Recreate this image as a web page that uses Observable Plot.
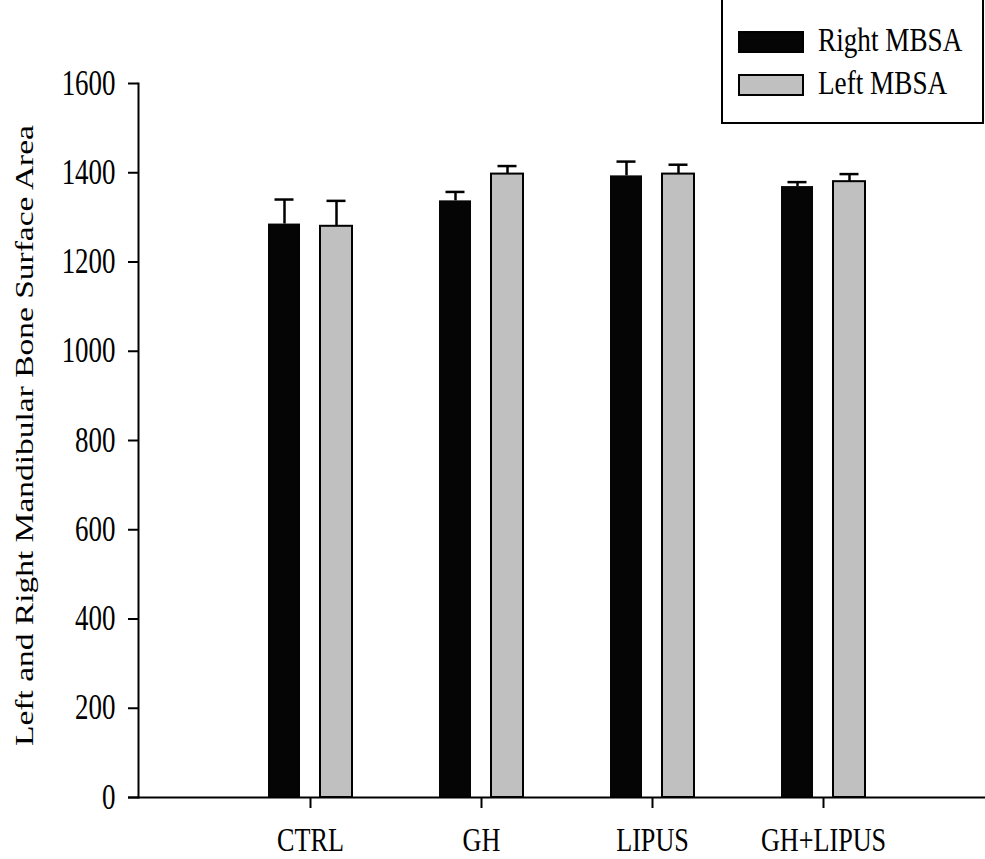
<!DOCTYPE html>
<html>
<head>
<meta charset="utf-8">
<script src="https://cdn.jsdelivr.net/npm/d3@7"></script>
<script src="https://cdn.jsdelivr.net/npm/@observablehq/plot@0.6"></script>
<style>
  html, body { margin: 0; padding: 0; background: white; }
  #wrap { position: relative; width: 985px; height: 859px; overflow: hidden; }
  #wrap svg text { font-family: "Liberation Serif", "Times New Roman", serif !important; }
  #legend { position: absolute; left: 721px; top: -4px; width: 263px; height: 128px; border: 2px solid black; box-sizing: border-box; background: white; font-family: "Liberation Serif", serif; font-size: 34px; }
  .sw { position: absolute; left: 15px; width: 66px; height: 22px; box-sizing: border-box; border: 2px solid black; }
  .lab { position: absolute; left: 95px; line-height: 34px; white-space: nowrap; transform: scaleX(0.8); transform-origin: 0 0; }
</style>
</head>
<body>
<div id="wrap"></div>
<script>
const categories = ["CTRL", "GH", "LIPUS", "GH+LIPUS"];
const rightMean = [1285, 1337, 1393, 1369];
const rightErr = [55, 20, 32, 10];
const leftMean = [1280, 1397, 1397, 1380];
const leftErr = [57, 18, 21, 17];
const yTicks = [0, 200, 400, 600, 800, 1000, 1200, 1400, 1600];
const seriesNames = ["Right MBSA", "Left MBSA"];
const seriesColors = ["#050505", "#c0c0c0"];
const yTitle = "Left and Right Mandibular Bone Surface Area";

const data = categories.map((c, i) => ({
  cat: c,
  right: rightMean[i], rightTop: rightMean[i] + rightErr[i],
  left: leftMean[i], leftTop: leftMean[i] + leftErr[i]
}));

const squeeze = 0.77;
const serif = "Liberation Serif";

const chart = Plot.plot({
  width: 985,
  height: 859,
  marginTop: 83,
  marginBottom: 62,
  marginLeft: 138,
  marginRight: 0,
  style: { fontFamily: serif, fontSize: "35px", color: "black", background: "white", overflow: "visible" },
  x: { domain: categories, range: [139, 994], paddingInner: 0.50588, paddingOuter: 0.75294, label: null },
  y: { domain: [0, 1600], range: [797, 83], label: null },
  marks: [
    Plot.ruleX(data, { x: "cat", y1: "right", y2: "rightTop", dx: -26, stroke: "black", strokeWidth: 2.5 }),
    Plot.ruleX(data, { x: "cat", y1: "left", y2: "leftTop", dx: 26, stroke: "black", strokeWidth: 2.5 }),
    Plot.tickY(data, { x: "cat", y: "rightTop", insetLeft: 6.5, insetRight: 58.5, stroke: "black", strokeWidth: 2.5 }),
    Plot.tickY(data, { x: "cat", y: "leftTop", insetLeft: 58.5, insetRight: 6.5, stroke: "black", strokeWidth: 2.5 }),
    Plot.barY(data, { x: "cat", y: "right", fill: seriesColors[0], insetRight: 52 }),
    Plot.barY(data, { x: "cat", y: "left", fill: seriesColors[1], stroke: "black", strokeWidth: 2, insetLeft: 52 }),
    Plot.ruleY([0], { stroke: "black", strokeWidth: 2, insetLeft: -10 }),
    Plot.frame({ anchor: "left", stroke: "black", strokeWidth: 2 }),
    Plot.axisY({ ticks: yTicks, tickSize: 10, tickPadding: 13, tickFormat: "d", fontSize: 35, fontFamily: serif, strokeWidth: 2, label: null }),
    Plot.axisX({ tickSize: 11, tickPadding: 18, fontSize: 34, fontFamily: serif, strokeWidth: 2, label: null }),
    Plot.text([yTitle], { frameAnchor: "left", dx: -116, dy: -5, rotate: -90, fontSize: 33.5, fontFamily: serif, textAnchor: "middle", lineAnchor: "middle", fill: "black" })
  ]
});

const wrap = document.getElementById("wrap");
wrap.appendChild(chart);

// The reference typography is horizontally condensed: wrap each text in a group
// that compresses it horizontally about its own anchor point.
const SVGNS = "http://www.w3.org/2000/svg";
d3.select(chart).selectAll("text").nodes().forEach((el) => {
  let px = 0, py = 0;
  try {
    if (el.x && el.x.baseVal && el.x.baseVal.numberOfItems) px = el.x.baseVal.getItem(0).value;
    if (el.y && el.y.baseVal && el.y.baseVal.numberOfItems) py = el.y.baseVal.getItem(0).value;
  } catch (e) {}
  let ax = px, ay = py;
  const tl = el.transform && el.transform.baseVal;
  if (tl && tl.numberOfItems) {
    const m = tl.consolidate().matrix;
    ax = m.a * px + m.c * py + m.e;
    ay = m.b * px + m.d * py + m.f;
  }
  const g = document.createElementNS(SVGNS, "g");
  g.setAttribute("transform", `translate(${ax},${ay}) scale(${squeeze},1) translate(${-ax},${-ay})`);
  el.parentNode.insertBefore(g, el);
  g.appendChild(el);
});

const legend = document.createElement("div");
legend.id = "legend";
seriesNames.forEach((name, i) => {
  const sw = document.createElement("div");
  sw.className = "sw";
  sw.style.top = (i === 0 ? 33 : 76) + "px";
  sw.style.background = seriesColors[i];
  const label = document.createElement("div");
  label.className = "lab";
  label.style.top = (i === 0 ? 25 : 68) + "px";
  label.textContent = name;
  legend.appendChild(sw);
  legend.appendChild(label);
});
wrap.appendChild(legend);
</script>
</body>
</html>
